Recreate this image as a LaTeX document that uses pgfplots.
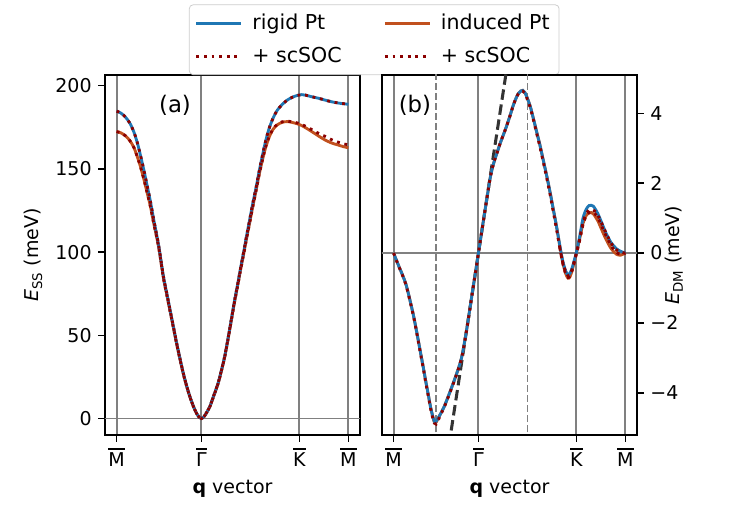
\documentclass[border=0pt]{standalone}
\usepackage{fontspec}
\setmainfont{DejaVu Sans}
\usepackage{pgfplots}
\pgfplotsset{compat=1.18}
\definecolor{cblue}{RGB}{31,119,180}
\definecolor{corange}{RGB}{193,80,30}
\definecolor{cdot}{RGB}{139,0,0}
\definecolor{cgrid}{RGB}{128,128,128}
\newcommand{\olb}[1]{\setbox0\hbox{#1}\vbox{\hrule height 0.8pt\kern1.6pt\box0}}
\pgfplotsset{
  myax/.style={
    scale only axis, width=134.13pt, height=189.36pt,
    xmin=-0.0789, xmax=1.6563,
    xtick={0,0.5774,1.2440,1.5774},
    xticklabels={\olb{M},\olb{Γ},\olb{K},\olb{M}},
    xtick pos=bottom, tick align=outside, major tick length=3.5pt,
    every tick/.style={black, line width=0.8pt},
    axis line style={line width=0.8pt},
    xlabel={\textbf{q} vector},
    /pgf/number format/assume math mode=true,
    xmajorgrids, grid style={cgrid, line width=1pt},
    clip mode=individual,
  },
  rig/.style={cblue, line width=1.5pt},
  ind/.style={corange, line width=1.5pt},
  soc/.style={cdot, line width=1.5pt, dash pattern=on 1.5pt off 2.5pt, line cap=butt},
}
\begin{document}
\begin{tikzpicture}
\path[use as bounding box] (0,0) rectangle (394.5pt,276.15pt);
% ---------------- panel (a)
\begin{axis}[myax, at={(55.23pt,47.34pt)}, anchor=south west,
  ymin=-9.9, ymax=206.4, ytick={0,50,100,150,200}, ytick pos=left,
  ylabel={\textit{E}\textsubscript{SS} (meV)},
  legend columns=2,
  legend cell align=left,
  legend image code/.code={\draw[#1, line width=1.5pt] (0pt,0pt) -- (23.7pt,0pt);},
  legend style={at={(1.0557,1.196)}, anchor=north, draw=black!20, rounded corners=2pt,
    font=\fontsize{10.8}{13}\selectfont, inner xsep=3pt, inner ysep=3pt,
    row sep=3.5pt,
    /tikz/every even column/.append style={column sep=20pt},
    /tikz/every odd column/.append style={column sep=3pt}},
]
\addplot[cgrid, line width=1pt, forget plot] coordinates {(-0.2,0) (1.8,0)};
\addlegendimage{rig}\addlegendentry{rigid Pt}
\addlegendimage{ind}\addlegendentry{induced Pt}
\addlegendimage{soc}\addlegendentry{+ scSOC}
\addlegendimage{soc}\addlegendentry{+ scSOC}
% induced
\addplot[ind, smooth, forget plot] coordinates {
(0,172.4) (0.03,171.6) (0.061,169.8) (0.09,167) (0.117,163) (0.14,157.5) (0.162,151.5)
(0.185,144) (0.207,136) (0.23,127.5) (0.251,118) (0.274,108.5) (0.29,101) (0.319,84.3)
(0.342,74.2) (0.364,64.5) (0.387,54.4) (0.409,44.7) (0.432,35.4) (0.454,26.9) (0.477,19.3)
(0.499,13) (0.522,7.4) (0.544,3.1) (0.562,0.8) (0.5774,0)
(0.595,1.2) (0.61,3.2) (0.634,7) (0.66,13.3) (0.69,20.8) (0.712,28.2) (0.735,36.7)
(0.757,47) (0.78,58.6) (0.802,69.8) (0.825,80.4) (0.845,90) (0.865,99) (0.884,108)
(0.903,116.5) (0.925,126.5) (0.948,136.5) (0.97,146.5) (0.993,155.5) (1.015,163)
(1.038,169) (1.065,173.8) (1.094,176.5) (1.128,178) (1.161,178.4) (1.195,177.9)
(1.229,177.1) (1.26,176) (1.29,174.5) (1.33,172.3) (1.375,169.7) (1.42,167.3)
(1.464,165.5) (1.509,164.3) (1.545,163.3) (1.5774,162.7)};
% rigid
\addplot[rig, smooth, forget plot] coordinates {
(0,184.7) (0.03,183.5) (0.061,181) (0.09,177.5) (0.117,172.3) (0.14,166) (0.162,158.3)
(0.185,149.5) (0.207,140.3) (0.23,130.5) (0.251,120.3) (0.274,109.8) (0.29,102) (0.319,85.2)
(0.342,75) (0.364,65.2) (0.387,55) (0.409,45.2) (0.432,35.8) (0.454,27.2) (0.477,19.5)
(0.499,13.1) (0.522,7.5) (0.544,3.1) (0.562,0.8) (0.5774,0)
(0.595,1.2) (0.61,3.2) (0.634,7.1) (0.66,13.5) (0.69,21.1) (0.712,28.5) (0.735,37.1)
(0.757,47.5) (0.78,59.2) (0.802,70.5) (0.825,81.2) (0.845,91) (0.865,100.2) (0.884,109.5)
(0.903,118.2) (0.925,128.5) (0.948,138.3) (0.97,148.5) (0.993,158.3) (1.015,167)
(1.038,174.3) (1.065,180.5) (1.094,185.3) (1.128,188.8) (1.161,191.3) (1.195,193)
(1.229,194.1) (1.26,194.6) (1.285,194.3) (1.33,193.3) (1.375,192.4) (1.42,191.3)
(1.464,190.3) (1.52,189.4) (1.5774,188.8)};
% rigid + scSOC
\addplot[soc, smooth, forget plot] coordinates {
(0,184.7) (0.03,183.5) (0.061,181) (0.09,177.5) (0.117,172.3) (0.14,166) (0.162,158.3)
(0.185,149.5) (0.207,140.3) (0.23,130.5) (0.251,120.3) (0.274,109.8) (0.29,102) (0.319,85.2)
(0.342,75) (0.364,65.2) (0.387,55) (0.409,45.2) (0.432,35.8) (0.454,27.2) (0.477,19.5)
(0.499,13.1) (0.522,7.5) (0.544,3.1) (0.562,0.8) (0.5774,0)
(0.595,1.2) (0.61,3.2) (0.634,7.1) (0.66,13.5) (0.69,21.1) (0.712,28.5) (0.735,37.1)
(0.757,47.5) (0.78,59.2) (0.802,70.5) (0.825,81.2) (0.845,91) (0.865,100.2) (0.884,109.5)
(0.903,118.2) (0.925,128.5) (0.948,138.3) (0.97,148.5) (0.993,158.3) (1.015,167)
(1.038,174.3) (1.065,180.5) (1.094,185.3) (1.128,188.8) (1.161,191.3) (1.195,193)
(1.229,194.1) (1.26,194.5) (1.285,194.3) (1.33,193.3) (1.375,192.4) (1.42,191.3)
(1.464,190.3) (1.52,189.4) (1.5774,188.9)};
% induced + scSOC
\addplot[soc, smooth, forget plot] coordinates {
(0,172.4) (0.03,171.6) (0.061,169.8) (0.09,167) (0.117,163) (0.14,157.5) (0.162,151.5)
(0.185,144) (0.207,136) (0.23,127.5) (0.251,118) (0.274,108.5) (0.29,101) (0.319,84.3)
(0.342,74.2) (0.364,64.5) (0.387,54.4) (0.409,44.7) (0.432,35.4) (0.454,26.9) (0.477,19.3)
(0.499,13) (0.522,7.4) (0.544,3.1) (0.562,0.8) (0.5774,0)
(0.595,1.2) (0.61,3.2) (0.634,7) (0.66,13.3) (0.69,20.8) (0.712,28.2) (0.735,36.7)
(0.757,47) (0.78,58.6) (0.802,69.8) (0.825,80.4) (0.845,90) (0.865,99) (0.884,108)
(0.903,116.5) (0.925,126.5) (0.948,136.5) (0.97,146.5) (0.994,156) (1.015,163.5)
(1.038,169.3) (1.065,174) (1.094,176.8) (1.128,178.3) (1.161,178.6) (1.195,178.3)
(1.229,177.6) (1.26,176.6) (1.29,175.4) (1.33,173.5) (1.375,171.3) (1.42,169.5)
(1.464,167.5) (1.509,166) (1.545,165) (1.5774,164.5)};
\node[font=\fontsize{12}{14}\selectfont] at (rel axis cs:0.2745,0.9167) {(a)};
\end{axis}
% ---------------- panel (b)
\begin{axis}[myax, at={(200.93pt,47.34pt)}, anchor=south west,
  ymin=-5.21, ymax=5.10, ytick={-4,-2,0,2,4},
  yticklabels={−4,−2,0,2,4},
  ytick pos=right, yticklabel pos=right,
]
\addplot[cgrid, line width=1pt] coordinates {(-0.2,0) (1.8,0)};
\addplot[cgrid, line width=0.9pt, dash pattern=on 3.7pt off 1.6pt] coordinates {(0.2887,-6) (0.2887,6)};
\addplot[cgrid, line width=0.9pt, dash pattern=on 3.7pt off 1.6pt] coordinates {(0.9107,-6) (0.9107,6)};
\addplot[black!80, line width=1.6pt, dash pattern=on 5.5pt off 2.5pt] coordinates {(0.392,-5.08) (0.78,5.55)};
% induced
\addplot[ind, smooth] coordinates {
(0,0) (0.038,-0.40) (0.06,-0.62) (0.083,-0.88) (0.10,-1.15) (0.117,-1.45) (0.135,-1.78)
(0.151,-2.12) (0.168,-2.5) (0.185,-2.89) (0.202,-3.27) (0.218,-3.65) (0.235,-4.03)
(0.252,-4.42) (0.265,-4.66) (0.277,-4.84) (0.287,-4.86) (0.298,-4.78) (0.32,-4.6)
(0.342,-4.42) (0.365,-4.18) (0.387,-3.94) (0.415,-3.62) (0.444,-3.27) (0.465,-2.95)
(0.489,-2.4) (0.507,-1.93) (0.523,-1.48) (0.538,-1.07) (0.552,-0.69) (0.5774,0)
(0.60,0.62) (0.62,1.17) (0.64,1.7) (0.655,2.1) (0.67,2.4) (0.685,2.63) (0.70,2.82)
(0.726,3.15) (0.75,3.42) (0.771,3.66) (0.795,3.97) (0.815,4.24) (0.835,4.45) (0.849,4.57)
(0.865,4.64) (0.879,4.66) (0.893,4.6) (0.906,4.48) (0.93,4.2) (0.951,3.86) (0.973,3.48)
(0.996,3.09) (1.02,2.63) (1.041,2.23) (1.064,1.76) (1.086,1.27) (1.108,0.78) (1.131,0.2)
(1.15,-0.25) (1.17,-0.58) (1.187,-0.72) (1.20,-0.68) (1.215,-0.5) (1.23,-0.25) (1.244,0)
(1.265,0.38) (1.289,0.85) (1.31,1.07) (1.33,1.15) (1.345,1.16) (1.36,1.12) (1.39,0.92)
(1.42,0.63) (1.447,0.38) (1.48,0.13) (1.515,-0.03) (1.545,-0.06) (1.5774,0)};
% rigid
\addplot[rig, smooth] coordinates {
(0,0) (0.038,-0.40) (0.06,-0.62) (0.083,-0.88) (0.10,-1.15) (0.117,-1.45) (0.135,-1.78)
(0.151,-2.12) (0.168,-2.5) (0.185,-2.89) (0.202,-3.27) (0.218,-3.65) (0.235,-4.03)
(0.252,-4.42) (0.265,-4.65) (0.277,-4.82) (0.287,-4.83) (0.298,-4.76) (0.32,-4.6)
(0.342,-4.42) (0.365,-4.18) (0.387,-3.94) (0.415,-3.62) (0.444,-3.27) (0.465,-2.95)
(0.489,-2.4) (0.507,-1.93) (0.523,-1.48) (0.538,-1.07) (0.552,-0.69) (0.5774,0)
(0.60,0.62) (0.62,1.17) (0.64,1.7) (0.655,2.1) (0.67,2.4) (0.685,2.63) (0.70,2.82)
(0.726,3.15) (0.75,3.42) (0.771,3.66) (0.795,3.97) (0.815,4.24) (0.835,4.45) (0.849,4.57)
(0.865,4.64) (0.879,4.66) (0.893,4.6) (0.906,4.48) (0.93,4.2) (0.951,3.86) (0.973,3.48)
(0.996,3.09) (1.02,2.63) (1.041,2.23) (1.064,1.76) (1.086,1.27) (1.108,0.78) (1.131,0.22)
(1.15,-0.2) (1.17,-0.5) (1.187,-0.62) (1.20,-0.58) (1.215,-0.42) (1.23,-0.2) (1.244,0.02)
(1.265,0.45) (1.289,1.0) (1.31,1.25) (1.33,1.36) (1.345,1.37) (1.36,1.34) (1.39,1.13)
(1.42,0.83) (1.447,0.56) (1.48,0.3) (1.515,0.13) (1.545,0.05) (1.5774,0)};
% rigid + scSOC
\addplot[soc, smooth] coordinates {
(0,0) (0.038,-0.41) (0.06,-0.63) (0.083,-0.9) (0.10,-1.17) (0.117,-1.47) (0.135,-1.8)
(0.151,-2.14) (0.168,-2.53) (0.185,-2.92) (0.202,-3.3) (0.218,-3.69) (0.235,-4.07)
(0.252,-4.46) (0.265,-4.7) (0.277,-4.87) (0.29,-4.9) (0.30,-4.82) (0.32,-4.63)
(0.342,-4.44) (0.365,-4.2) (0.387,-3.96) (0.415,-3.64) (0.444,-3.28) (0.465,-2.96)
(0.489,-2.41) (0.507,-1.94) (0.523,-1.49) (0.538,-1.08) (0.552,-0.7) (0.5774,0)
(0.60,0.62) (0.62,1.17) (0.64,1.7) (0.655,2.1) (0.67,2.4) (0.685,2.63) (0.70,2.82)
(0.726,3.15) (0.75,3.42) (0.771,3.66) (0.795,3.97) (0.815,4.24) (0.835,4.45) (0.849,4.56)
(0.865,4.63) (0.879,4.64) (0.893,4.58) (0.906,4.45) (0.93,4.16) (0.951,3.82) (0.973,3.44)
(0.996,3.04) (1.02,2.58) (1.041,2.17) (1.064,1.7) (1.086,1.2) (1.108,0.7) (1.131,0.15)
(1.15,-0.25) (1.17,-0.52) (1.187,-0.65) (1.20,-0.62) (1.215,-0.46) (1.23,-0.22) (1.244,0)
(1.265,0.38) (1.289,0.88) (1.31,1.12) (1.33,1.23) (1.35,1.25) (1.37,1.2) (1.40,1.0)
(1.43,0.72) (1.46,0.45) (1.49,0.22) (1.52,0.08) (1.55,0.02) (1.5774,0)};
% induced + scSOC
\addplot[soc, smooth] coordinates {
(1.131,0.15) (1.15,-0.27) (1.17,-0.58) (1.187,-0.7) (1.20,-0.66) (1.215,-0.5) (1.23,-0.26)
(1.244,-0.02) (1.265,0.34) (1.289,0.82) (1.31,1.06) (1.33,1.16) (1.35,1.18) (1.37,1.13)
(1.40,0.93) (1.43,0.64) (1.46,0.38) (1.49,0.15) (1.52,0.01) (1.55,-0.04) (1.5774,0)};
\node[font=\fontsize{12}{14}\selectfont] at (rel axis cs:0.129,0.9167) {(b)};
\node[rotate=90] at (rel axis cs:1.145,0.5) {\textit{E}\textsubscript{DM} (meV)};
\end{axis}
\end{tikzpicture}
\end{document}
